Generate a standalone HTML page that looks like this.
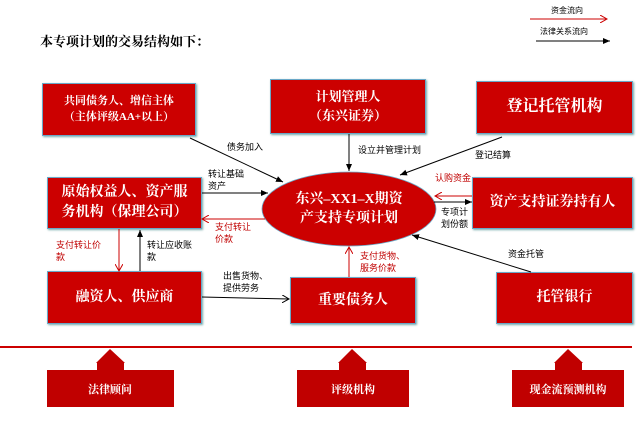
<!DOCTYPE html>
<html><head><meta charset="utf-8"><style>
body{margin:0;width:643px;height:445px;background:#fff;overflow:hidden;position:relative;font-family:"Liberation Serif","Noto Serif CJK SC",serif}
.b{position:absolute;background:#cc0000;color:#fff;display:flex;align-items:center;justify-content:center;text-align:center;font-weight:bold;box-shadow:1px 1px 2px #7aa;border:1px solid #6aa8c8;box-sizing:border-box;line-height:1.4}
.t{position:absolute;font-size:9px;line-height:12px;color:#000;font-family:"Liberation Sans","Noto Sans CJK SC",sans-serif}
.r{color:#c00000}
</style></head><body>
<div class="t" style="left:40px;top:36px;font-size:13px;font-weight:bold;font-family:'Liberation Serif','Noto Serif CJK SC',serif">本专项计划的交易结构如下：</div>
<div class="t" style="left:551px;top:5px;font-size:8px">资金流向</div>
<div class="t" style="left:540px;top:26px;font-size:8px">法律关系流向</div>

<div class="b" style="left:42px;top:83px;width:154px;height:53px;font-size:11px">共同债务人、增信主体<br>（主体评级AA+以上）</div>
<div class="b" style="left:270px;top:79px;width:156px;height:55px;font-size:13px">计划管理人<br>（东兴证券）</div>
<div class="b" style="left:476px;top:81px;width:157px;height:53px;font-size:16px">登记托管机构</div>
<div class="b" style="left:47px;top:177px;width:155px;height:52px;font-size:14px">原始权益人、资产服<br>务机构（保理公司）</div>
<div class="b" style="left:472px;top:177px;width:161px;height:52px;font-size:14px">资产支持证券持有人</div>
<div class="b" style="left:47px;top:271px;width:155px;height:53px;font-size:14px">融资人、供应商</div>
<div class="b" style="left:290px;top:277px;width:126px;height:47px;font-size:14px">重要债务人</div>
<div class="b" style="left:496px;top:272px;width:137px;height:52px;font-size:14px">托管银行</div>

<svg width="643" height="445" style="position:absolute;left:0;top:0">
<defs>
<marker id="k" markerWidth="8" markerHeight="8" refX="7" refY="4" orient="auto"><path d="M0,1L7,4L0,7z" fill="#000"/></marker>
<marker id="rr" markerWidth="8" markerHeight="8" refX="7" refY="4" orient="auto"><path d="M0,0L7,4L0,8" fill="none" stroke="#c00" stroke-width="1"/></marker>
<marker id="ko" markerWidth="8" markerHeight="8" refX="7" refY="4" orient="auto"><path d="M0,0L7,4L0,8" fill="none" stroke="#000" stroke-width="1"/></marker>
</defs>
<line x1="530" y1="19" x2="607" y2="19" stroke="#c00" marker-end="url(#rr)"/>
<line x1="536" y1="41" x2="610" y2="41" stroke="#000" marker-end="url(#k)"/>
<ellipse cx="349" cy="209" rx="87" ry="37" fill="#cc0000" stroke="#6aa8c8" stroke-width="0.8"/>
<text x="349" y="203" fill="#fff" font-size="14" font-weight="bold" text-anchor="middle" font-family="Liberation Serif,Noto Serif CJK SC,serif">东兴–XX1–X期资</text>
<text x="349" y="222" fill="#fff" font-size="14" font-weight="bold" text-anchor="middle" font-family="Liberation Serif,Noto Serif CJK SC,serif">产支持专项计划</text>
<line x1="190" y1="138" x2="283" y2="182" stroke="#000" marker-end="url(#k)"/>
<line x1="349" y1="134" x2="349" y2="171" stroke="#000" marker-end="url(#k)"/>
<line x1="502" y1="137" x2="400" y2="175" stroke="#000" marker-end="url(#k)"/>
<line x1="202" y1="193" x2="268" y2="193" stroke="#000" marker-end="url(#k)"/>
<line x1="265" y1="219" x2="202" y2="219" stroke="#c00" marker-end="url(#rr)"/>
<line x1="472" y1="196" x2="435" y2="196" stroke="#c00" marker-end="url(#rr)"/>
<line x1="434" y1="202" x2="472" y2="202" stroke="#000" marker-end="url(#k)"/>
<line x1="119" y1="229" x2="119" y2="271" stroke="#c00" marker-end="url(#rr)"/>
<line x1="140" y1="271" x2="140" y2="230" stroke="#000" marker-end="url(#k)"/>
<line x1="349" y1="277" x2="349" y2="247" stroke="#c00" marker-end="url(#rr)"/>
<line x1="531" y1="272" x2="412" y2="235" stroke="#000" marker-end="url(#k)"/>
<line x1="202" y1="297" x2="289" y2="299" stroke="#000" marker-end="url(#ko)"/>
<rect x="0" y="346" width="632" height="2" fill="#cc0000"/>
<g fill="#c00000">
<rect x="47" y="370" width="127" height="37"/><rect x="97" y="362" width="27" height="9"/><polygon points="96,363 110,349 125,363"/>
<rect x="297" y="370" width="112" height="37"/><rect x="339" y="362" width="27" height="9"/><polygon points="338,363 352,349 367,363"/>
<rect x="512" y="370" width="112" height="37"/><rect x="555" y="362" width="27" height="9"/><polygon points="554,363 568,349 583,363"/>
</g>
<g fill="#fff" font-size="11" font-weight="bold" text-anchor="middle" font-family="Liberation Serif,Noto Serif CJK SC,serif">
<text x="110" y="393">法律顾问</text><text x="353" y="393">评级机构</text><text x="568" y="393">现金流预测机构</text>
</g>
</svg>

<div class="t" style="left:227px;top:141px">债务加入</div>
<div class="t" style="left:358px;top:144px">设立并管理计划</div>
<div class="t" style="left:475px;top:149px">登记结算</div>
<div class="t" style="left:208px;top:168px">转让基础<br>资产</div>
<div class="t r" style="left:435px;top:172px">认购资金</div>
<div class="t" style="left:441px;top:206px">专项计<br>划份额</div>
<div class="t r" style="left:215px;top:221px">支付转让<br>价款</div>
<div class="t r" style="left:56px;top:239px">支付转让价<br>款</div>
<div class="t" style="left:147px;top:239px">转让应收账<br>款</div>
<div class="t r" style="left:360px;top:250px">支付货物、<br>服务价款</div>
<div class="t" style="left:508px;top:248px">资金托管</div>
<div class="t" style="left:223px;top:270px">出售货物、<br>提供劳务</div>
</body></html>
